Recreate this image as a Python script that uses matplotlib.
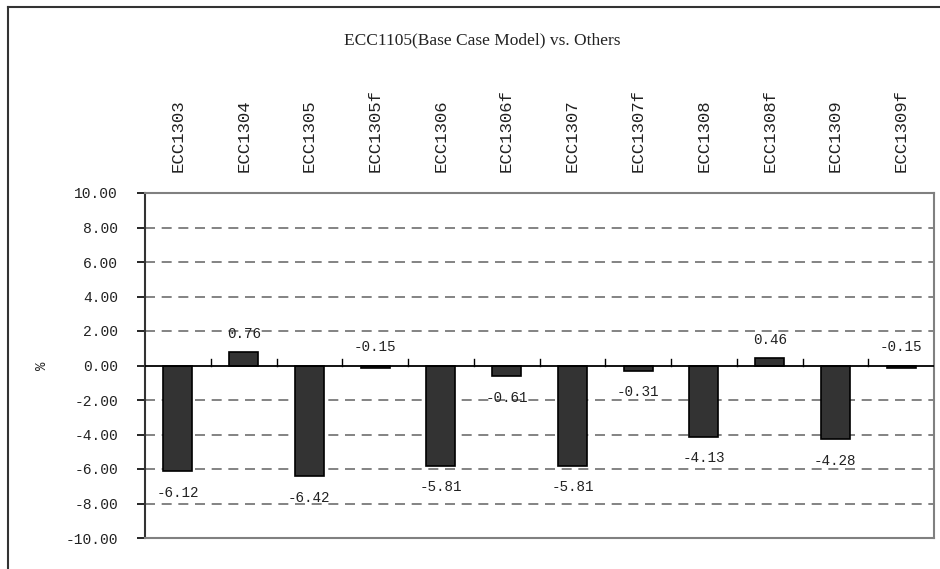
import matplotlib
matplotlib.use("Agg")
import matplotlib.pyplot as plt
from matplotlib.lines import Line2D
import numpy as np

# Model runs compared against the ECC1105 base case (% difference)
models = ["ECC1303", "ECC1304", "ECC1305", "ECC1305f", "ECC1306", "ECC1306f",
          "ECC1307", "ECC1307f", "ECC1308", "ECC1308f", "ECC1309", "ECC1309f"]
pct_diff = [-6.12, 0.76, -6.42, -0.15, -5.81, -0.61,
            -5.81, -0.31, -4.13, 0.46, -4.28, -0.15]
y_ticks = [-10, -8, -6, -4, -2, 0, 2, 4, 6, 8, 10]

W, H = 940, 569
fig = plt.figure(figsize=(W / 100, H / 100), dpi=100)
ax = fig.add_axes([145 / W, (H - 538) / H, (934 - 145) / W, (538 - 193) / H])

mono = "Liberation Mono"
x = np.arange(len(models))

# dashed grid lines behind the bars
for yv in y_ticks:
    if yv in (0, 10, -10):
        continue
    ax.axhline(yv, color="#6e6e6e", lw=1.2, ls=(0, (6, 4)), zorder=1)

ax.bar(x, pct_diff, width=0.44, color="#333333", edgecolor="black",
       linewidth=1.2, zorder=3)

# zero line with category separator ticks
ax.axhline(0, color="black", lw=1.3, zorder=4)
for b in np.arange(0.5, len(models) - 0.5, 1.0):
    ax.plot([b, b], [0, 0.35], color="black", lw=1.0, zorder=4)

# value labels
for xi, v in zip(x, pct_diff):
    if v > -0.2:
        ax.annotate(f"{v:.2f}", (xi, max(v, 0)), xytext=(0, 13),
                    textcoords="offset points", ha="center", va="center",
                    family=mono, fontsize=10.3, color="#222222", zorder=5)
    else:
        ax.annotate(f"{v:.2f}", (xi, v), xytext=(0, -15.5),
                    textcoords="offset points", ha="center", va="center",
                    family=mono, fontsize=10.3, color="#222222", zorder=5)

ax.set_xlim(-0.5, len(models) - 0.5)
ax.set_ylim(-10, 10)
ax.set_yticks(y_ticks)
ax.set_yticklabels([f"{t:.2f}" for t in y_ticks], family=mono, fontsize=10.5,
                   color="#222222")
ax.tick_params(axis="y", direction="out", length=6, width=1.2, pad=13.5,
               colors="black", labelcolor="#222222")

ax.xaxis.tick_top()
ax.set_xticks(x)
ax.set_xticklabels(models, rotation=90, family=mono, fontsize=12.5,
                   color="#222222", va="bottom")
ax.tick_params(axis="x", length=0, pad=15)

# axis caption
fig.text(42 / W, 1 - 366 / H, "%", rotation=90, ha="center", va="center",
         family=mono, fontsize=10, color="#222222")

for side in ("top", "right", "bottom"):
    ax.spines[side].set_color("#808080")
    ax.spines[side].set_linewidth(1.5)
ax.spines["left"].set_color("#333333")
ax.spines["left"].set_linewidth(1.5)

fig.text(482 / W, 1 - 40 / H, "ECC1105(Base Case Model) vs. Others",
         ha="center", va="center", family="Liberation Serif", fontsize=12.5,
         color="#222222")

# outer chart border (top and left edges)
fig.add_artist(Line2D([8 / W, 8 / W], [0, 1 - 7 / H], transform=fig.transFigure,
                      color="#333333", lw=1.5))
fig.add_artist(Line2D([8 / W, 1], [1 - 7 / H, 1 - 7 / H], transform=fig.transFigure,
                      color="#333333", lw=1.5))

fig.savefig("out.png", dpi=100)
